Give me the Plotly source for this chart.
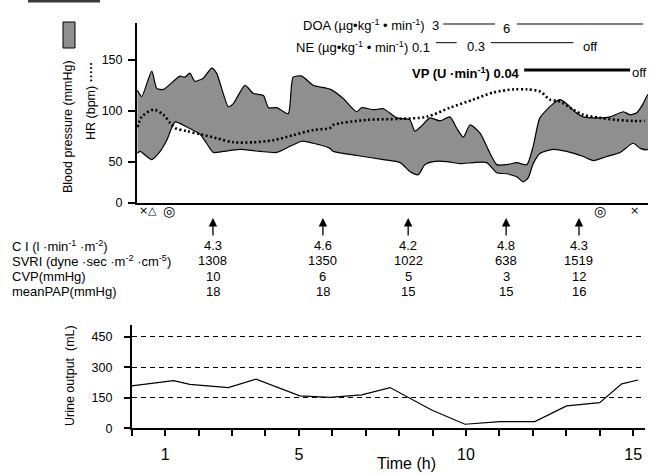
import plotly.graph_objects as go

W, H = 650, 474
FONT = "Liberation Sans, Arial, sans-serif"


def px(x):
    return x / W


def py(y):
    return 1 - y / H


# ---------------- data ----------------
# blood pressure band (upper / lower envelope), time in hours
bp_upper_h = [0.17, 0.30, 0.60, 0.75, 0.95, 1.44, 1.59, 1.74, 1.89, 2.14,
              2.39, 2.54, 2.89, 3.04, 3.39, 3.64, 3.94, 4.09, 4.34, 4.68,
              4.83, 5.09, 5.43, 5.95, 6.33, 6.73, 6.88, 7.23, 7.53, 7.93,
              8.32, 8.47, 8.67, 8.92, 9.22, 9.52, 9.72, 9.92, 10.12, 10.42,
              10.72, 10.92, 11.22, 11.52, 11.82, 12.01, 12.21, 12.61, 12.81, 13.01,
              13.26, 13.51, 14.01, 14.31, 14.71, 14.91, 15.11, 15.30, 15.44]
bp_upper = [120, 114, 139, 122, 121, 134, 133, 137, 129, 132,
            142, 137, 104, 107, 125, 117, 115, 103, 103, 97,
            133, 134, 125, 121, 112, 99, 103, 101, 102, 93,
            91, 80, 85, 93, 90, 94, 83, 74, 86, 78,
            58, 47, 47, 49, 47, 65, 93, 107, 111, 107,
            99, 94, 93, 94, 99, 96, 98, 107, 116]

bp_lower_h = [0.17, 0.25, 0.60, 0.85, 1.05, 1.30, 1.65, 2.04, 2.24, 2.44,
              2.74, 3.24, 3.84, 4.34, 4.74, 5.09, 5.43, 5.93, 6.03, 6.73,
              7.53, 8.03, 8.33, 8.57, 8.77, 9.02, 9.42, 9.82, 10.22, 10.62,
              10.92, 11.22, 11.52, 11.71, 11.86, 12.01, 12.21, 12.61, 13.01, 13.51,
              13.81, 14.21, 14.61, 15.00, 15.21, 15.44]
bp_lower = [58, 60, 52, 60, 71, 89, 84, 77, 68, 59,
            60, 62, 60, 59, 65, 70, 68, 63, 60, 56,
            52, 49, 40, 37, 47, 50, 50, 48, 49, 49,
            39, 38, 35, 30, 34, 48, 58, 62, 60, 55,
            51, 55, 59, 68, 63, 62]

hr_h = [0.17, 0.30, 0.65, 0.95, 1.15, 1.30, 1.65, 2.04, 2.54, 3.04,
        3.64, 4.24, 4.83, 5.43, 5.93, 6.03, 7.03, 8.03, 8.82, 9.52,
        10.22, 10.82, 11.42, 11.82, 12.21, 12.51, 12.81, 13.21, 13.51, 14.01,
        14.51, 15.00, 15.35]
hr = [84, 94, 101, 96, 88, 83, 80, 77, 73, 69,
      69, 71, 76, 81, 83, 86, 91, 92, 94, 103,
      111, 118, 121, 121, 119, 111, 109, 101, 96, 93,
      91, 90, 90]

urine_h = [0, 0.35, 1.25, 1.74, 2.89, 3.72, 5.03, 5.93, 6.88, 7.73,
           8.97, 9.97, 11.02, 12.06, 13.01, 14.0, 14.66, 15.15]
urine = [208, 216, 234, 216, 200, 241, 159, 152, 164, 200,
         90, 20, 33, 33, 110, 126, 218, 237]

# hemodynamic measurements
meas_h = [2.43, 5.72, 8.27, 11.2, 13.38]
ci = ["4.3", "4.6", "4.2", "4.8", "4.3"]
svri = ["1308", "1350", "1022", "638", "1519"]
cvp = ["10", "6", "5", "3", "12"]
mpap = ["18", "18", "15", "15", "16"]
row_labels = ["C I (l ·min<sup>-1</sup> ·m<sup>-2</sup>)",
              "SVRI (dyne ·sec ·m<sup>-2</sup> ·cm<sup>-5</sup>)",
              "CVP(mmHg)",
              "meanPAP(mmHg)"]

# event symbols below the time axis
event_h = [0.34, 0.63, 1.12, 14.01, 15.05]
event_sym = ["×", "△", "◎", "◎", "×"]

# drug infusions: dose labels and periods (hours)
doa_dose_h = [11.2]
doa_dose = ["6"]
doa_seg = [(9.32, 10.87), (11.52, 15.30)]
ne_dose_h = [10.30, 13.71]
ne_dose = ["0.3", "off"]
ne_seg = [(9.10, 9.72), (10.74, 13.21)]
vp_dose_h = [15.18]
vp_dose = ["off"]
vp_seg = [(11.74, 14.91)]

y_ticks_top = [0, 50, 100, 150]
y_ticks_bot = [0, 150, 300, 450]
x_ticks = list(range(16))
x_ticktext = [str(h) if h in (1, 5, 10, 15) else "" for h in x_ticks]

BAND = "#8f8f8f"

fig = go.Figure()

fig.add_trace(go.Scatter(
    x=bp_upper_h + bp_lower_h[::-1], y=bp_upper + bp_lower[::-1],
    mode="lines", fill="toself", fillcolor=BAND,
    line=dict(color="black", width=1.2, shape="spline", smoothing=0.6),
    xaxis="x", yaxis="y", hoverinfo="skip", showlegend=False))

fig.add_trace(go.Scatter(
    x=hr_h, y=hr, mode="lines",
    line=dict(color="black", width=2.6, dash="2px,2.5px", shape="spline", smoothing=0.8),
    xaxis="x", yaxis="y", hoverinfo="skip", showlegend=False))

fig.add_trace(go.Scatter(
    x=urine_h, y=urine, mode="lines",
    line=dict(color="black", width=1.2),
    xaxis="x2", yaxis="y2", hoverinfo="skip", showlegend=False))

ann = []
shapes = []


def txt(text, x, y, xref="paper", size=13, xanchor="center", **kw):
    d = dict(text=text, x=x, y=py(y), xref=xref, yref="paper", showarrow=False,
             xanchor=xanchor, yanchor="middle", font=dict(size=size, **kw.pop("font", {})))
    d.update(kw)
    ann.append(d)


# y-axis titles
txt("Blood pressure (mmHg)", px(68), 127, size=12.5, textangle=-90)
txt("HR (bpm) <b>·····</b>", px(91), 101, size=12.5, textangle=-90)
txt("Urine output  (mL)", px(70), 376, size=12.5, textangle=-90)
txt("Time (h)", px(406), 463, size=16)

# drug rows
txt("DOA (µg•kg<sup>-1</sup> • min<sup>-1</sup>)  3", px(441), 25.5, xanchor="right")
txt("NE (µg•kg<sup>-1</sup> • min<sup>-1</sup>) 0.1", px(432), 46.7, xanchor="right")
txt("<b>VP (U ·min<sup>-1</sup>) 0.04</b>", px(522), 72.7, xanchor="right")
for h, t in zip(doa_dose_h, doa_dose):
    txt(t, h, 28.3, xref="x")
for h, t in zip(ne_dose_h, ne_dose):
    txt(t, h, 46.7, xref="x")
for h, t in zip(vp_dose_h, vp_dose):
    txt(t, h, 72.7, xref="x")
for a, b in doa_seg:
    shapes.append(dict(type="line", xref="x", yref="paper", x0=a, x1=b, y0=py(24), y1=py(24),
                       line=dict(color="black", width=1)))
for a, b in ne_seg:
    shapes.append(dict(type="line", xref="x", yref="paper", x0=a, x1=b, y0=py(42.7), y1=py(42.7),
                       line=dict(color="black", width=1)))
for a, b in vp_seg:
    shapes.append(dict(type="line", xref="x", yref="paper", x0=a, x1=b, y0=py(70), y1=py(70),
                       line=dict(color="black", width=3)))

# legend swatch and top-left bar
shapes.append(dict(type="rect", xref="paper", yref="paper", x0=px(63), x1=px(75), y0=py(48), y1=py(22),
                   fillcolor=BAND, line=dict(color="black", width=1)))
shapes.append(dict(type="rect", xref="paper", yref="paper", x0=px(28), x1=px(100), y0=py(2.5), y1=py(0),
                   fillcolor="#3a3a3a", line=dict(width=0)))

# event symbols
for h, s in zip(event_h, event_sym):
    size = 14 if s == "◎" else 11
    txt(s, h, 210.5, xref="x", size=size, font=dict(family="DejaVu Sans"))

# measurement arrows and table
for h in meas_h:
    ann.append(dict(text="", x=h, y=py(218), xref="x", yref="paper", ax=0, ay=19,
                    showarrow=True, arrowhead=2, arrowsize=1.3, arrowwidth=1.3, arrowcolor="black"))
row_y = [245.7, 260.7, 276, 291]
for lab, yy in zip(row_labels, row_y):
    txt(lab, px(10), yy, xanchor="left")
for vals, yy in zip([ci, svri, cvp, mpap], row_y):
    for h, v in zip(meas_h, vals):
        txt(v, h, yy, xref="x")

fig.update_layout(
    width=W, height=H, margin=dict(l=0, r=0, t=0, b=0, autoexpand=False),
    paper_bgcolor="white", plot_bgcolor="white",
    font=dict(family=FONT, color="black", size=13),
    showlegend=False,
    annotations=ann, shapes=shapes,
    xaxis=dict(domain=[px(137), px(648)], range=[(137 - 131.7) / 33.43, (648 - 131.7) / 33.43],
               anchor="y", showline=True, linewidth=2, linecolor="black", ticks="",
               showticklabels=False, showgrid=False, zeroline=False, automargin=False),
    yaxis=dict(domain=[py(202.7), py(23)], range=[9.55, 186.3], anchor="x",
               showline=True, linewidth=2, linecolor="black", ticks="outside", ticklen=7,
               tickwidth=1.5, tickcolor="black",
               tickvals=[9.6] + y_ticks_top[1:], ticktext=[str(v) for v in y_ticks_top],
               tickfont=dict(size=12.5), ticklabelstandoff=3, showgrid=False, zeroline=False,
               automargin=False),
    xaxis2=dict(domain=[px(131.7), px(645)], range=[0, (645 - 131.7) / 33.43], anchor="y2",
                showline=True, linewidth=2, linecolor="black", ticks="outside", ticklen=6,
                tickwidth=2, tickcolor="black", tickvals=x_ticks, ticktext=x_ticktext,
                tickfont=dict(size=16), ticklabelstandoff=4, showgrid=False, zeroline=False,
                automargin=False),
    yaxis2=dict(domain=[py(428.3), py(325)], range=[0, 507], anchor="x2",
                showline=True, linewidth=1.5, linecolor="black", ticks="outside", ticklen=6,
                tickwidth=1.5, tickcolor="black", tickvals=y_ticks_bot,
                tickfont=dict(size=12.5), ticklabelstandoff=9,
                showgrid=True, gridcolor="black", gridwidth=1, griddash="5px,4px", zeroline=False,
                automargin=False),
)

fig.write_html("out.html", config={"displayModeBar": False},
               post_script="document.body.style.margin='0';document.body.style.overflow='hidden';")
